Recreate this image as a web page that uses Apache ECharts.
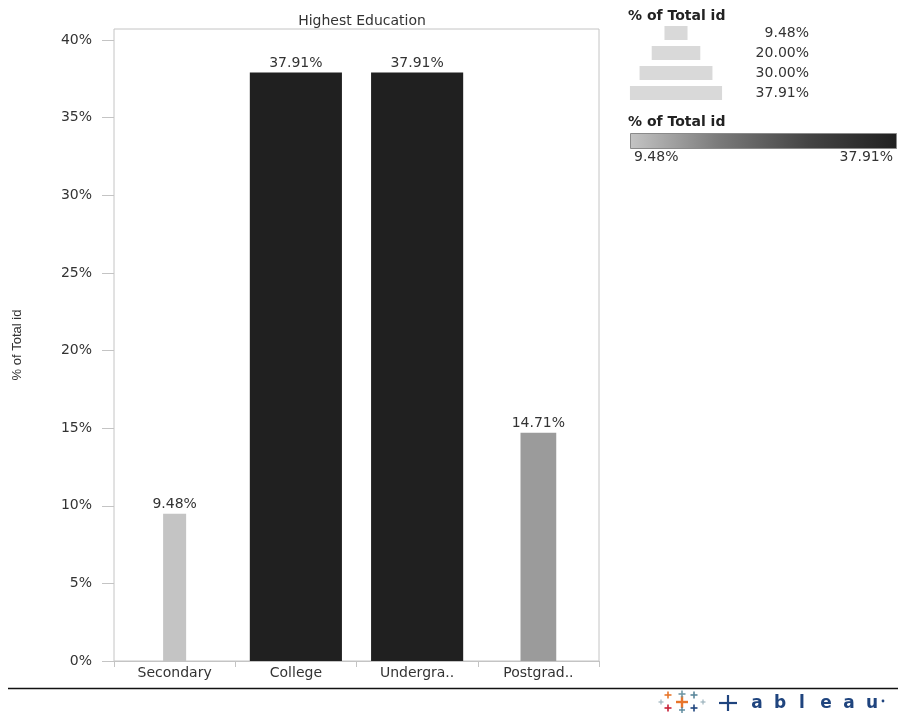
<!DOCTYPE html>
<html>
<head>
<meta charset="utf-8">
<title>Highest Education</title>
<script src="https://cdn.jsdelivr.net/npm/echarts@6/dist/echarts.min.js"></script>
<style>
  html, body { margin: 0; padding: 0; background: #fff; }
  #chart { width: 898px; height: 713px; }
</style>
</head>
<body>
<div id="chart"></div>
<script>
// Share of ids by highest education level (% of total)
const categories = ['Secondary', 'College', 'Undergra..', 'Postgrad..'];
const shareOfTotal = [9.48, 37.91, 37.91, 14.71];
const yTicks = [0, 5, 10, 15, 20, 25, 30, 35, 40];
// Size legend entries and colour legend range
const sizeLegendValues = [9.48, 20.00, 30.00, 37.91];
const colorRange = [9.48, 37.91];

const FONT = 'DejaVu Sans, Liberation Sans, sans-serif';
const TEXT = '#333333';
const FRAME = '#c4c4c4';
const FS = 14;
const PX_PER_PCT = 2.43;          // bar width per percentage point (size encoding)
const RAMP = ['#c4c4c4', '#7a7a7a', '#444444', '#202020'];

const fmtPct = v => v.toFixed(2) + '%';

const chart = echarts.init(document.getElementById('chart'), null, { renderer: 'canvas' });

function renderBar(params, api) {
  const v = api.value(1);
  const base = api.coord([api.value(0), 0]);
  const top = api.coord([api.value(0), v]);
  const w = v * PX_PER_PCT;
  return {
    type: 'group',
    children: [
      {
        type: 'rect',
        shape: { x: base[0] - w / 2, y: top[1], width: w, height: base[1] - top[1] },
        style: { fill: api.visual('color') }
      },
      {
        type: 'text',
        style: {
          text: fmtPct(v),
          x: base[0],
          y: top[1] - 2,
          align: 'center',
          verticalAlign: 'bottom',
          fill: TEXT,
          font: FS + 'px ' + FONT
        }
      }
    ]
  };
}

// Legend graphics: size legend, colour ramp, footer rule and logo
const legendX = 628;
const sizeCenterX = 676;
const graphics = [];

graphics.push({
  type: 'text', left: legendX, top: 9,
  style: { text: '% of Total id', font: 'bold 14px ' + FONT, fill: '#222' }
});
sizeLegendValues.forEach((v, i) => {
  const cy = 33 + i * 20;
  const w = v * PX_PER_PCT;
  graphics.push({
    type: 'rect',
    shape: { x: sizeCenterX - w / 2, y: cy - 7, width: w, height: 14 },
    style: { fill: '#d9d9d9' }
  });
  graphics.push({
    type: 'text',
    style: { text: fmtPct(v), x: 809, y: cy, align: 'right', verticalAlign: 'middle', font: FS + 'px ' + FONT, fill: TEXT }
  });
});

graphics.push({
  type: 'text', left: legendX, top: 115,
  style: { text: '% of Total id', font: 'bold 14px ' + FONT, fill: '#222' }
});
graphics.push({
  type: 'rect',
  shape: { x: 630.5, y: 133.5, width: 266, height: 15 },
  style: {
    fill: new echarts.graphic.LinearGradient(0, 0, 1, 0, RAMP.map((c, i) => ({ offset: i / (RAMP.length - 1), color: c }))),
    stroke: '#8a8a8a', lineWidth: 1
  }
});
graphics.push({
  type: 'text',
  style: { text: fmtPct(colorRange[0]), x: 634, y: 157, align: 'left', verticalAlign: 'middle', font: FS + 'px ' + FONT, fill: TEXT }
});
graphics.push({
  type: 'text',
  style: { text: fmtPct(colorRange[1]), x: 893, y: 157, align: 'right', verticalAlign: 'middle', font: FS + 'px ' + FONT, fill: TEXT }
});

// Footer rule
graphics.push({
  type: 'line',
  shape: { x1: 8, y1: 688.5, x2: 898, y2: 688.5 },
  style: { stroke: '#111', lineWidth: 1.5 }
});

// Logo: cluster of crosses
const crosses = [
  [682, 702, 6, 2.4, '#e8762b'],
  [668, 695, 3.5, 1.6, '#e8762b'],
  [682, 694, 3.5, 1.6, '#7099a6'],
  [694, 695, 3.5, 1.6, '#5b879b'],
  [661, 702, 2.5, 1.2, '#9bb3bd'],
  [703, 702, 2.5, 1.2, '#9bb3bd'],
  [668, 708, 3.5, 1.6, '#c72037'],
  [682, 710, 3, 1.4, '#59879b'],
  [694, 708, 3.5, 1.6, '#1f457e']
];
crosses.forEach(([cx, cy, r, lw, col]) => {
  graphics.push({ type: 'line', shape: { x1: cx - r, y1: cy, x2: cx + r, y2: cy }, style: { stroke: col, lineWidth: lw } });
  graphics.push({ type: 'line', shape: { x1: cx, y1: cy - r, x2: cx, y2: cy + r }, style: { stroke: col, lineWidth: lw } });
});
// Logo word mark
graphics.push({ type: 'line', shape: { x1: 719, y1: 703, x2: 737, y2: 703 }, style: { stroke: '#1f447e', lineWidth: 2.2 } });
graphics.push({ type: 'line', shape: { x1: 728, y1: 695, x2: 728, y2: 711 }, style: { stroke: '#1f447e', lineWidth: 2.2 } });
const marks = [['a', 757], ['b', 780], ['l', 802], ['e', 826], ['a', 849], ['u', 872]];
marks.forEach(([ch, x]) => {
  graphics.push({
    type: 'text',
    style: { text: ch, x: x, y: 704, align: 'center', verticalAlign: 'middle', font: 'bold 17px ' + FONT, fill: '#1f447e' }
  });
});
graphics.push({ type: 'circle', shape: { cx: 883, cy: 701, r: 1.4 }, style: { fill: '#1f447e' } });

const option = {
  backgroundColor: '#ffffff',
  animation: false,
  title: {
    text: 'Highest Education',
    left: 357, top: 9, textAlign: 'center',
    textStyle: { fontFamily: FONT, fontSize: FS, fontWeight: 'normal', color: TEXT }
  },
  grid: {
    left: 114, right: 299, top: 29, bottom: 52,
    show: true, borderColor: FRAME, borderWidth: 1, backgroundColor: 'transparent'
  },
  visualMap: {
    type: 'continuous', show: false, seriesIndex: 0, dimension: 1,
    min: colorRange[0], max: colorRange[1],
    inRange: { color: RAMP }
  },
  xAxis: {
    type: 'category',
    data: categories,
    boundaryGap: true,
    axisLine: { show: true, lineStyle: { color: FRAME, width: 1 } },
    axisTick: { show: true, interval: 0, length: 6, lineStyle: { color: FRAME } },
    axisLabel: { interval: 0, margin: 5, color: TEXT, fontFamily: FONT, fontSize: FS }
  },
  yAxis: {
    type: 'value',
    min: 0,
    max: 40.71,
    name: '% of Total id',
    nameLocation: 'middle',
    nameRotate: 90,
    nameGap: 90,
    nameTextStyle: { fontFamily: 'Liberation Sans Narrow, Liberation Sans, sans-serif', fontSize: 13, color: TEXT },
    axisLine: { show: false },
    axisTick: { show: true, length: 12, customValues: yTicks, lineStyle: { color: FRAME } },
    axisLabel: {
      customValues: yTicks, margin: 22, color: TEXT, fontFamily: FONT, fontSize: FS,
      formatter: v => v + '%'
    },
    splitLine: { show: false }
  },
  series: [{
    type: 'custom',
    name: '% of Total id',
    renderItem: renderBar,
    encode: { x: 0, y: 1 },
    data: categories.map((c, i) => [i, shareOfTotal[i]])
  }],
  graphic: graphics
};

chart.setOption(option);
</script>
</body>
</html>
